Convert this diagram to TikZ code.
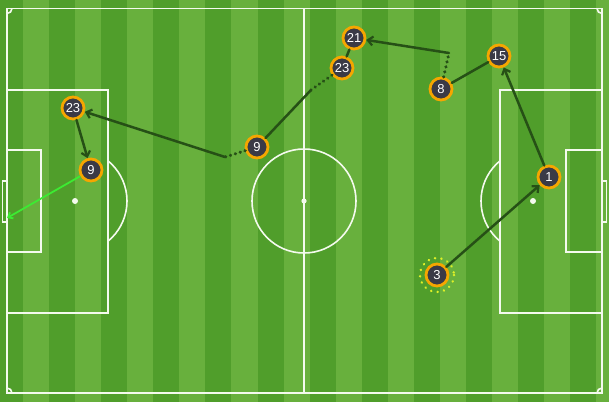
\documentclass[tikz,border=0pt]{standalone}
\usepackage{fontspec}
\setmainfont{Liberation Sans}
\usetikzlibrary{arrows.meta}
\definecolor{turfdark}{RGB}{80,158,43}
\definecolor{turflight}{RGB}{104,176,61}
\definecolor{chalk}{RGB}{244,250,238}
\definecolor{ringorange}{RGB}{245,166,0}
\definecolor{shirtgrey}{RGB}{58,58,70}
\definecolor{passgreen}{RGB}{38,80,22}
\definecolor{shotgreen}{RGB}{60,235,50}
\definecolor{haloyellow}{RGB}{222,240,40}
\begin{document}
\begin{tikzpicture}
			[x=1pt, y=-1pt,
			 pitchline/.style={draw=chalk, line width=1.6pt},
			 player/.style={circle, draw=ringorange, line width=2.8pt, fill=shirtgrey, text=white,
			   minimum size=22pt, inner sep=0pt, font=\fontsize{13}{15}\selectfont},
			 passline/.style={draw=passgreen, line width=2.5pt, line cap=round},
			 pass/.style={passline, -{Straight Barb[length=5pt,width=9pt,line width=2.2pt]}},
			 run/.style={draw=passgreen, line width=3.4pt, line cap=round, dash pattern=on 0.1pt off 5pt},
			 shot/.style={draw=shotgreen, line width=1.8pt, -{Straight Barb[length=4pt,width=7pt]}},
			 halo/.style={draw=haloyellow, line width=2.6pt, line cap=round, dash pattern=on 0.1pt off 6.4pt}]
			\useasboundingbox (0,0) rectangle (609,402);
			% turf
			\fill[turflight] (0,0) rectangle (609,402);
			\foreach \k in {0,...,11}
				\fill[turfdark] ({-3+52.1*\k},0) rectangle ++(26,402);
			% pitch markings
			\draw[pitchline] (7,8.5) rectangle (602,393);
			\draw[pitchline] (304,8.5) -- (304,393);
			\draw[pitchline] (304,201) circle (52);
			\fill[chalk] (304,201) circle (2.6);
			\draw[pitchline] (7,90) rectangle (108,313);
			\draw[pitchline] (7,150) rectangle (41,252);
			\draw[pitchline] (7,181) rectangle (2.5,222);
			\fill[chalk] (75,201) circle (3);
			\draw[pitchline] (602,90) rectangle (500,313);
			\draw[pitchline] (602,150) rectangle (566,252);
			\draw[pitchline] (602,181) rectangle (606.5,222);
			\fill[chalk] (533,201) circle (3);
			\begin{scope}
				\clip (108,0) rectangle (200,402);
				\draw[pitchline] (75,201) circle (52);
			\end{scope}
			\begin{scope}
				\clip (400,0) rectangle (500,402);
				\draw[pitchline] (533,201) circle (52);
			\end{scope}
			\begin{scope}
				\clip (7,8.5) rectangle (602,393);
				\foreach \cx/\cy in {7/8.5, 602/8.5, 7/393, 602/393}
					\draw[pitchline] (\cx,\cy) circle (5);
			\end{scope}
			% players
			\node[player] (n23l) at (73,108) {23};
			\node[player] (n9l) at (91,170) {9};
			\node[player] (n9) at (257,147) {9};
			\node[player] (n23) at (342,68) {23};
			\node[player] (n21) at (354,38) {21};
			\node[player] (n8) at (441,89) {8};
			\node[player] (n15) at (499,56) {15};
			\node[player] (n1) at (549,177) {1};
			\node[player] (n3) at (437,275) {3};
			\draw[halo] (n3) circle (17);
			\coordinate (t1) at (449,53);
			\coordinate (t2) at (311,90);
			\coordinate (t3) at (225,157);
			\coordinate (goal) at (7,218);
			% the move
			\draw (n3) edge[pass] (n1);
			\draw (n1) edge[pass] (n15);
			\draw (n15) edge[passline] (n8);
			\draw (n8) edge[run] (t1);
			\draw (t1) edge[pass] (n21);
			\draw (n21) edge[passline] (n23);
			\draw (n23) edge[run] (t2);
			\draw (t2) edge[passline] (n9);
			\draw (n9) edge[run] (t3);
			\draw (t3) edge[pass] (n23l);
			\draw (n23l) edge[pass] (n9l);
			\draw (n9l) edge[shot] (goal);
\end{tikzpicture}
\end{document}
